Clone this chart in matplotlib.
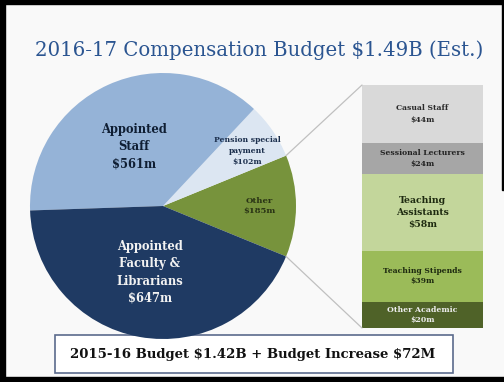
import numpy as np
import matplotlib
matplotlib.use("Agg")
import matplotlib.pyplot as plt
from matplotlib.patches import Rectangle, ConnectionPatch

# pie: 2016-17 compensation budget ($m)
pie_names = ["Other", "Pension special\npayment", "Appointed\nStaff", "Appointed\nFaculty &\nLibrarians"]
pie_values = [185, 102, 561, 647]
pie_colors = ["#77933c", "#dce6f2", "#95b3d7", "#1f3a63"]

# breakdown of "Other" ($m), listed bottom to top
bar_names = ["Other Academic", "Teaching Stipends", "Teaching\nAssistants", "Sessional Lecturers", "Casual Staff"]
bar_values = [20, 39, 58, 24, 44]
bar_colors = ["#4f6228", "#9bbb59", "#c3d69b", "#a6a6a6", "#d9d9d9"]

title = r"2016-17 Compensation Budget \$1.49B (Est.)"
footer = r"2015-16 Budget \$1.42B + Budget Increase \$72M"

W, H = 504, 382
serif = "DejaVu Serif"

fig = plt.figure(figsize=(W / 100, H / 100), dpi=100)
fig.patch.set_facecolor("#f9f9f9")

# background axes in pixel units (y down)
bg = fig.add_axes([0, 0, 1, 1])
bg.set_xlim(0, W)
bg.set_ylim(H, 0)
bg.axis("off")

# black frame
bg.add_patch(Rectangle((0, 0), W, 4, color="black"))
bg.add_patch(Rectangle((0, 0), 5, H, color="black"))
bg.add_patch(Rectangle((0, H - 5), W, 5, color="black"))
bg.add_patch(Rectangle((W - 2, 0), 2, 190, color="black"))

bg.text(259, 50, title, ha="center", va="center", fontsize=14.2,
        family=serif, color="#2b5591")

bg.add_patch(Rectangle((55, 335), 398, 38, facecolor="white",
                       edgecolor="#5b6b8c", lw=1.2))
bg.text(253, 354.5, footer, ha="center", va="center", fontsize=9.5,
        family=serif, fontweight="bold", color="#111111")

# pie
cx, cy, r = 163, 206, 133
pax = fig.add_axes([(cx - r) / W, (H - cy - r) / H, 2 * r / W, 2 * r / H])
start = -pie_values[0] / sum(pie_values) * 360 / 2
pax.pie(pie_values, colors=pie_colors, startangle=start, counterclock=True,
        radius=1, wedgeprops=dict(linewidth=0))
pax.set_xlim(-1, 1)
pax.set_ylim(-1, 1)
pax.axis("off")

pie_label_pos = [(0.726, 0.0), (0.632, 0.41), (-0.218, 0.444), (-0.098, -0.50)]
pie_label_size = [6, 5.5, 8.3, 8.3]
pie_label_color = ["#2a3415", "#1c2f4d", "#0f1e33", "#f2f2f2"]
pie_label_ls = [1.45, 1.5, 1.42, 1.42]
for name, val, (lx, ly), fs, c, ls in zip(pie_names, pie_values, pie_label_pos,
                                         pie_label_size, pie_label_color, pie_label_ls):
    pax.text(lx, ly, f"{name}\n\\${val}m", ha="center", va="center", fontsize=fs,
             family=serif, fontweight="bold", color=c, linespacing=ls)

# stacked bar for "Other"
bax = fig.add_axes([362 / W, (H - 328) / H, 121 / W, 243 / H])
bottoms = np.concatenate([[0], np.cumsum(bar_values)[:-1]])
bax.bar(0, bar_values, bottom=bottoms, width=1, color=bar_colors, linewidth=0)
bax.set_xlim(-0.5, 0.5)
bax.set_ylim(0, sum(bar_values))
bax.axis("off")

bar_label_size = [5.6, 5.5, 6.7, 5.5, 5.5]
bar_label_ls = [1.3, 1.45, 1.45, 1.45, 1.55]
bar_label_color = ["#eeeeee", "#1e2a10", "#1e2a10", "#222222", "#2a2a2a"]
for name, val, b, fs, c, ls in zip(bar_names, bar_values, bottoms, bar_label_size,
                                   bar_label_color, bar_label_ls):
    bax.text(0, b + val / 2, f"{name}\n\\${val}m", ha="center", va="center",
             fontsize=fs, family=serif, fontweight="bold", color=c, linespacing=ls)

# connector lines from the "Other" wedge to the bar
a0 = np.deg2rad(start)
a1 = np.deg2rad(start + pie_values[0] / sum(pie_values) * 360)
for ang, ybar in [(a1, sum(bar_values)), (a0, 0)]:
    con = ConnectionPatch(xyA=(np.cos(ang), np.sin(ang)), coordsA=pax.transData,
                          xyB=(-0.5, ybar), coordsB=bax.transData,
                          color="#c0c0c0", lw=0.9)
    fig.add_artist(con)

fig.savefig("out.png", dpi=100, facecolor=fig.get_facecolor())
